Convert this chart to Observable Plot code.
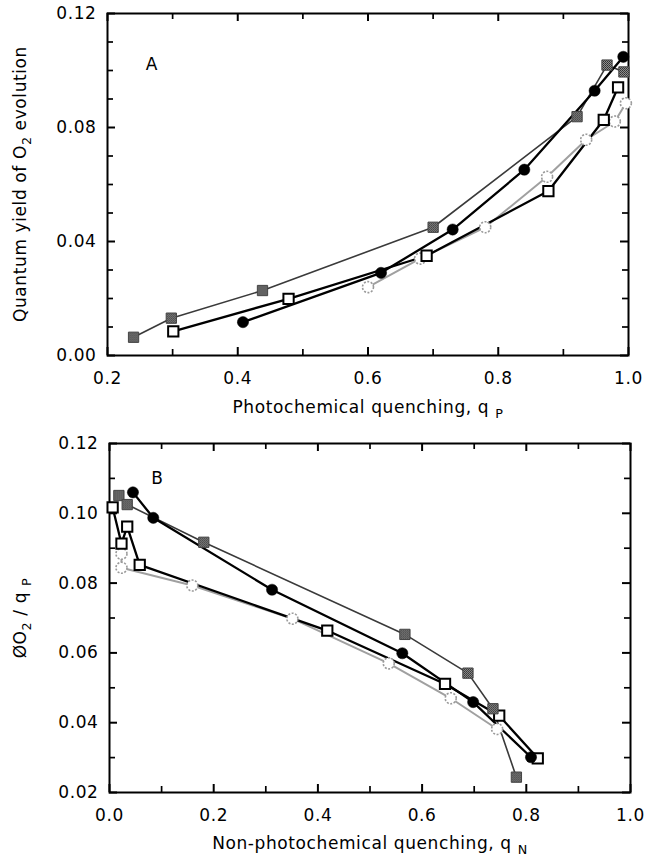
<!DOCTYPE html>
<html><head><meta charset="utf-8">
<script src="https://cdn.jsdelivr.net/npm/d3@7"></script>
<script src="https://cdn.jsdelivr.net/npm/@observablehq/plot@0.6"></script>
<style>
body{margin:0;background:#fff}
#chart svg{display:block}
</style>
</head><body><div id="chart"></div>
<script>
// ---------- Panel A: quantum yield of O2 evolution vs photochemical quenching qP ----------
const aGraySqQp   = [0.240, 0.298, 0.438, 0.700, 0.921, 0.967, 0.993];
const aGraySqY    = [0.0064, 0.0131, 0.0228, 0.0450, 0.0838, 0.1019, 0.0995];
const aBlackQp    = [0.408, 0.620, 0.730, 0.840, 0.948, 0.992];
const aBlackY     = [0.0117, 0.0290, 0.0442, 0.0652, 0.0929, 0.1048];
const aOpenSqQp   = [0.301, 0.478, 0.690, 0.877, 0.962, 0.984];
const aOpenSqY    = [0.0085, 0.0199, 0.0350, 0.0577, 0.0827, 0.0941];
const aOpenCiQp   = [0.600, 0.680, 0.780, 0.875, 0.935, 0.979, 0.996];
const aOpenCiY    = [0.0240, 0.0340, 0.0450, 0.0627, 0.0757, 0.0821, 0.0885];

// ---------- Panel B: ΦO2/qP vs non-photochemical quenching qN ----------
const bGraySqQn   = [0.018, 0.034, 0.181, 0.567, 0.688, 0.736, 0.781];
const bGraySqY    = [0.1051, 0.1025, 0.0917, 0.0653, 0.0542, 0.0440, 0.0244];
const bBlackQn    = [0.045, 0.084, 0.312, 0.562, 0.698, 0.809];
const bBlackY     = [0.1060, 0.0987, 0.0781, 0.0599, 0.0459, 0.0301];
const bOpenSqQn   = [0.006, 0.023, 0.034, 0.058, 0.418, 0.644, 0.748, 0.822];
const bOpenSqY    = [0.1017, 0.0913, 0.0962, 0.0852, 0.0664, 0.0511, 0.0420, 0.0298];
const bOpenCiQn   = [0.023, 0.023, 0.159, 0.351, 0.536, 0.655, 0.744];
const bOpenCiY    = [0.0884, 0.0844, 0.0793, 0.0698, 0.0570, 0.0470, 0.0382];

// ---------- tick values ----------
const aXMajor = [0.2, 0.4, 0.6, 0.8, 1.0];
const aXMinor = [0.3, 0.5, 0.7, 0.9];
const aYMajor = [0.00, 0.04, 0.08, 0.12];
const aYMinor = [0.01, 0.02, 0.03, 0.05, 0.06, 0.07, 0.09, 0.10, 0.11];
const bXMajor = [0.0, 0.2, 0.4, 0.6, 0.8, 1.0];
const bXMinor = [0.1, 0.3, 0.5, 0.7, 0.9];
const bYMajor = [0.02, 0.04, 0.06, 0.08, 0.10, 0.12];
const bYMinor = [0.03, 0.05, 0.07, 0.09, 0.11];

const FONT = "DejaVu Sans";
const FS = 17;
const W = 651;
const rows = (xs, ys) => xs.map((x, i) => ({x, y: ys[i]}));

function seriesMarks(s, id) {
  const gs = rows(s.graySq[0], s.graySq[1]);
  const bc = rows(s.black[0], s.black[1]);
  const os = rows(s.openSq[0], s.openSq[1]);
  const oc = rows(s.openCi[0], s.openCi[1]);
  return [
    Plot.line(oc, {x: "x", y: "y", stroke: "#a0a0a0", strokeWidth: 2}),
    Plot.line(gs, {x: "x", y: "y", stroke: "#3a3a3a", strokeWidth: 1.6}),
    Plot.line(os, {x: "x", y: "y", stroke: "#000", strokeWidth: 2.3}),
    Plot.line(bc, {x: "x", y: "y", stroke: "#000", strokeWidth: 2.3}),
    Plot.dot(oc, {x: "x", y: "y", r: 5.5, fill: "#fff", stroke: "#9a9a9a", strokeWidth: 1.6, strokeDasharray: "2,1.5"}),
    Plot.dot(os, {x: "x", y: "y", symbol: "square", r: 5.8, fill: "#fff", stroke: "#000", strokeWidth: 2}),
    Plot.dot(gs, {x: "x", y: "y", symbol: "square", r: 5.8, fill: `url(#${id})`, stroke: "#444", strokeWidth: 1}),
    Plot.dot(bc, {x: "x", y: "y", r: 5.6, fill: "#000", stroke: "#000", strokeWidth: 0.5})
  ];
}

function tickMarks(o, fw, fh) {
  const MAJ = 8, MIN = 6;
  const id = d => d;
  return [
    // inward ticks on all four sides
    Plot.tickX(o.xMajor, {x: id, insetTop: fh - MAJ, stroke: "#000", strokeWidth: 2}),
    Plot.tickX(o.xMajor, {x: id, insetBottom: fh - MAJ, stroke: "#000", strokeWidth: 2}),
    Plot.tickX(o.xMinor, {x: id, insetTop: fh - MIN, stroke: "#000", strokeWidth: 1.7}),
    Plot.tickX(o.xMinor, {x: id, insetBottom: fh - MIN, stroke: "#000", strokeWidth: 1.7}),
    Plot.tickY(o.yMajor, {y: id, insetRight: fw - MAJ, stroke: "#000", strokeWidth: 2}),
    Plot.tickY(o.yMajor, {y: id, insetLeft: fw - MAJ, stroke: "#000", strokeWidth: 2}),
    Plot.tickY(o.yMinor, {y: id, insetRight: fw - MIN, stroke: "#000", strokeWidth: 1.7}),
    Plot.tickY(o.yMinor, {y: id, insetLeft: fw - MIN, stroke: "#000", strokeWidth: 1.7}),
    // tick labels
    Plot.axisX({anchor: "bottom", ticks: o.xMajor, tickSize: 0, tickPadding: 16, tickFormat: d3.format(".1f"), fontSize: FS, label: null}),
    Plot.axisY({anchor: "left", ticks: o.yMajor, tickSize: 0, tickPadding: 11, tickFormat: d3.format(".2f"), fontSize: FS, label: null}),
    Plot.frame({stroke: "#000", strokeWidth: 2})
  ];
}

function panel(o) {
  const fw = W - o.ml - o.mr, fh = o.h - o.mt - o.mb;
  const svg = Plot.plot({
    width: W, height: o.h,
    marginTop: o.mt, marginBottom: o.mb, marginLeft: o.ml, marginRight: o.mr,
    x: {domain: o.xDomain, axis: null},
    y: {domain: o.yDomain, axis: null},
    style: {fontFamily: FONT, fontSize: FS + "px", color: "#000", background: "#fff", letterSpacing: "0.6px"},
    marks: [
      ...tickMarks(o, fw, fh),
      ...seriesMarks(o.series, o.pid),
      Plot.text([o.tag], {x: d => d.x, y: d => d.y, text: d => d.t, fontSize: FS, fill: "#000"})
    ]
  });
  const s = d3.select(svg);
  // halftone (checker) pattern for the grey filled squares
  const pat = s.insert("defs", ":first-child").append("pattern")
    .attr("id", o.pid).attr("width", 2).attr("height", 2).attr("patternUnits", "userSpaceOnUse");
  pat.append("rect").attr("width", 2).attr("height", 2).attr("fill", "#9a9a9a");
  pat.append("rect").attr("width", 1).attr("height", 1).attr("fill", "#222");
  pat.append("rect").attr("x", 1).attr("y", 1).attr("width", 1).attr("height", 1).attr("fill", "#333");
  return svg;
}

const root = document.getElementById("chart");

const svgA = panel({
  pid: "chkA",
  h: 425, mt: 13, mb: 70, ml: 107, mr: 23,
  xDomain: [0.2, 1.0], yDomain: [0, 0.12],
  xMajor: aXMajor, xMinor: aXMinor, yMajor: aYMajor, yMinor: aYMinor,
  tag: {x: 0.268, y: 0.102, t: "A"},
  series: {
    graySq: [aGraySqQp, aGraySqY], black: [aBlackQp, aBlackY],
    openSq: [aOpenSqQp, aOpenSqY], openCi: [aOpenCiQp, aOpenCiY]
  }
});
root.appendChild(svgA);

const svgB = panel({
  pid: "chkB",
  h: 439, mt: 18, mb: 72, ml: 109, mr: 21,
  xDomain: [0, 1.0], yDomain: [0.02, 0.12],
  xMajor: bXMajor, xMinor: bXMinor, yMajor: bYMajor, yMinor: bYMinor,
  tag: {x: 0.092, y: 0.110, t: "B"},
  series: {
    graySq: [bGraySqQn, bGraySqY], black: [bBlackQn, bBlackY],
    openSq: [bOpenSqQn, bOpenSqY], openCi: [bOpenCiQn, bOpenCiY]
  }
});
root.appendChild(svgB);

// axis titles with subscripts
function title(svg, x, y, parts, rotate) {
  const t = d3.select(svg).append("text")
    .attr("font-family", FONT).attr("font-size", FS).attr("letter-spacing", "0.6px")
    .attr("text-anchor", "middle").attr("fill", "#000")
    .attr("transform", rotate ? `translate(${x},${y}) rotate(-90)` : `translate(${x},${y})`);
  parts.forEach(p => {
    const ts = t.append("tspan").text(p.t);
    if (p.sub) ts.attr("font-size", FS * 0.75).attr("dy", 5);
    if (p.back) ts.attr("dy", -5);
  });
}
title(svgA, 368, 413, [{t: "Photochemical quenching, q "}, {t: "P", sub: true}]);
title(svgA, 26, 184, [{t: "Quantum yield of O"}, {t: "2", sub: true}, {t: " evolution", back: true}], true);
title(svgB, 370, 424, [{t: "Non-photochemical quenching, q "}, {t: "N", sub: true}]);
title(svgB, 26, 193, [{t: "ØO"}, {t: "2", sub: true}, {t: " / q ", back: true}, {t: "P", sub: true}], true);
</script>
</body></html>
